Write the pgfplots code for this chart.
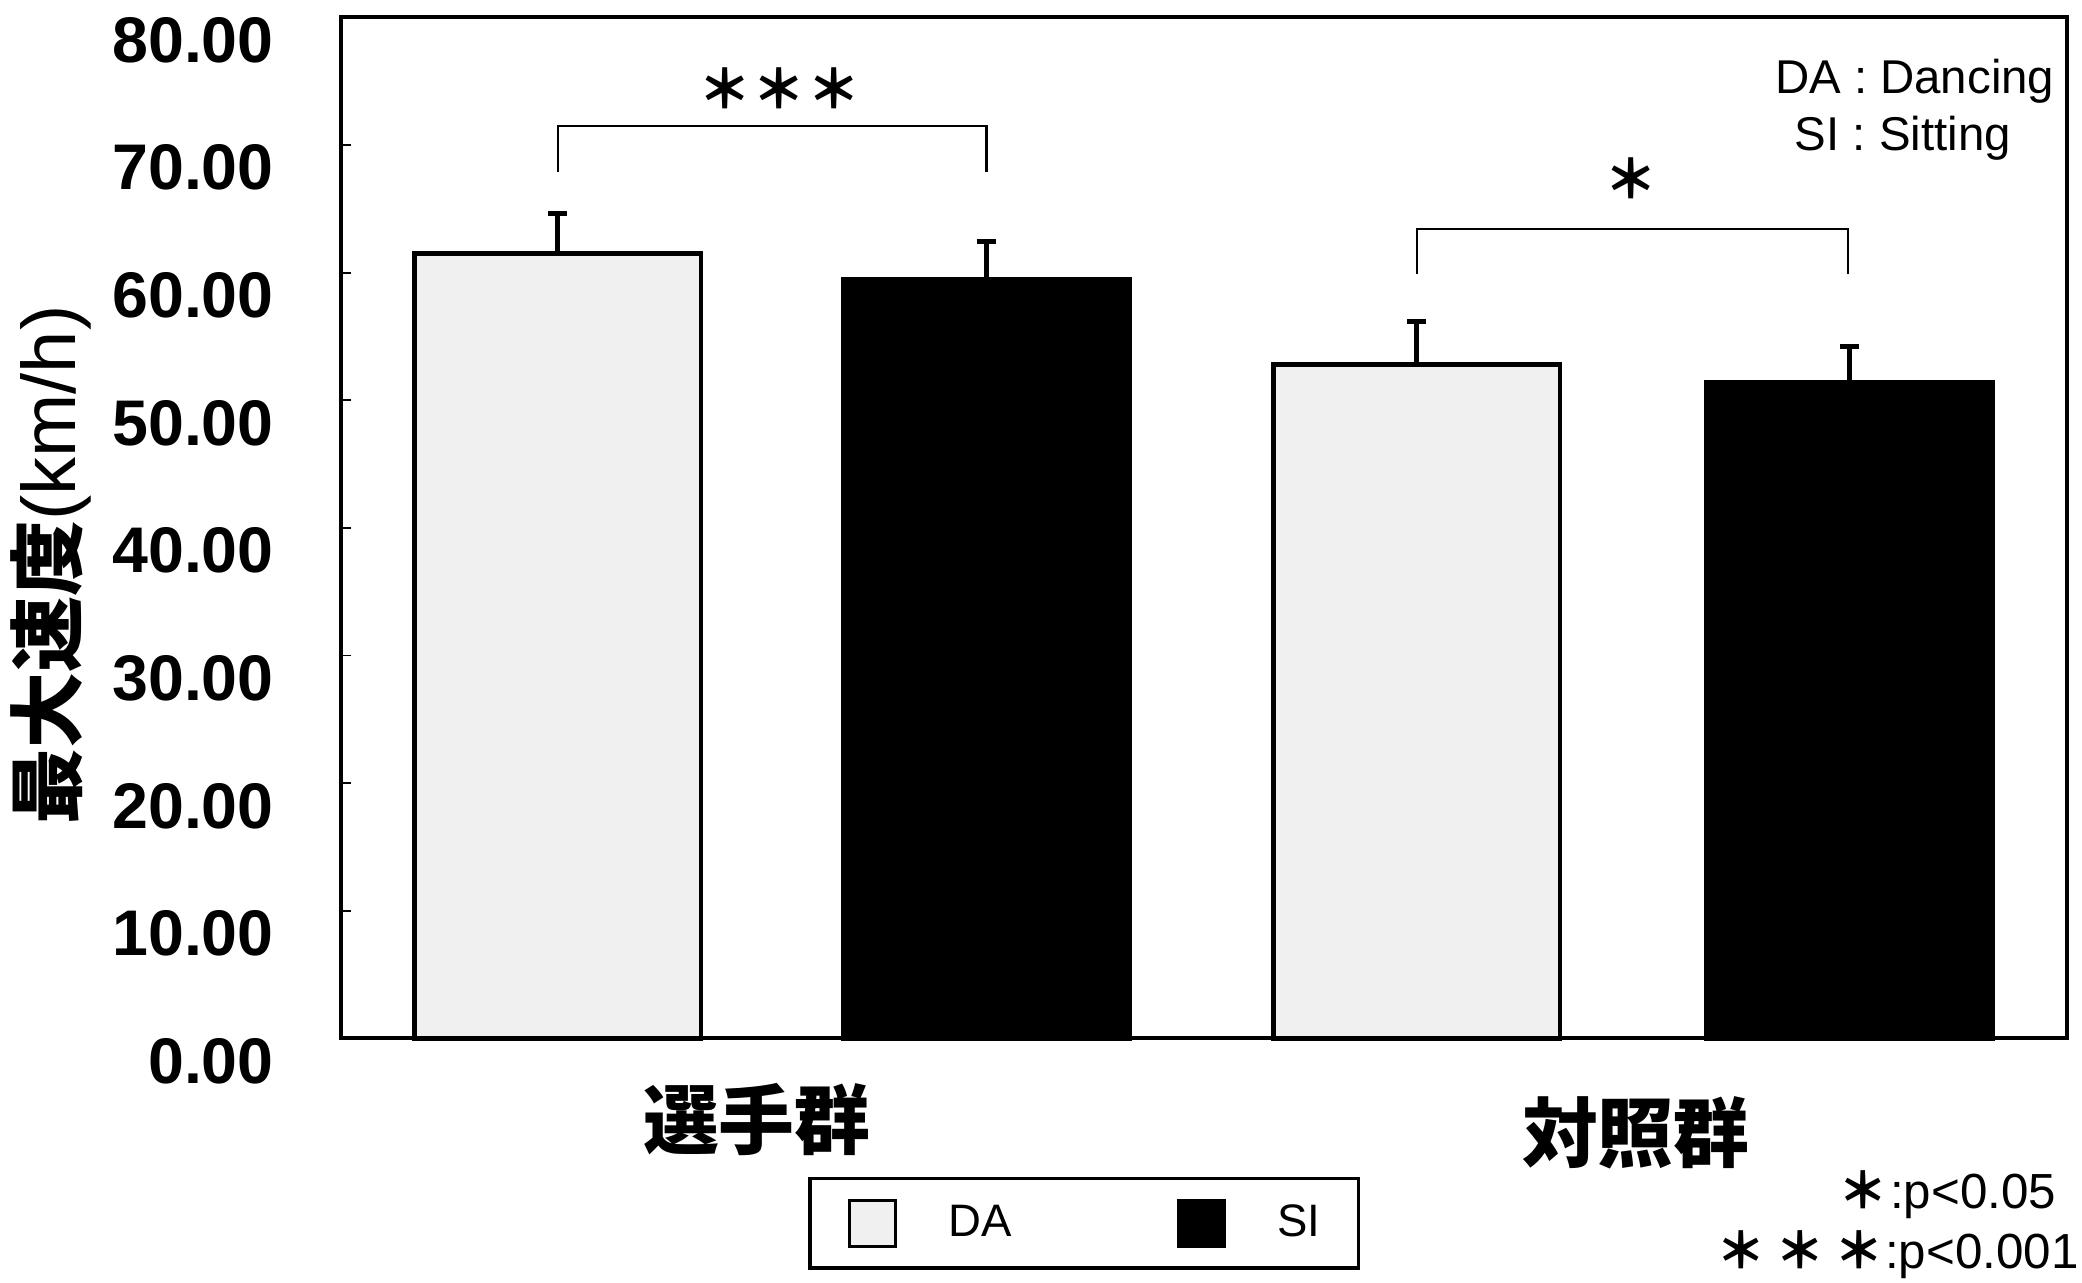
\documentclass[border=0pt]{standalone}
\usepackage{fontspec}
\setmainfont{Liberation Sans}
\newfontfamily\cjk{Noto Sans CJK JP}
\usepackage{pgfplots}
\usepackage{pgfplotstable}
\pgfplotsset{compat=1.18}

% x positions are bar centres along the frame (0--1300)
\pgfplotstableread{
x    y     err
163  61.5  3.1
810  52.8  3.4
}\dancing
\pgfplotstableread{
x    y     err
486  59.5  2.9
1136 51.4  2.8
}\sitting

\begin{document}
\begin{tikzpicture}
% page frame around the axis (axis origin sits at (0,0))
\path[use as bounding box] (-89.95pt,-64.4pt) rectangle (458.85pt,273.7pt);
\begin{axis}[
  at={(0pt,0pt)}, anchor=origin,
  scale only axis,
  width=455pt, height=269.15pt,
  xmin=0, xmax=1300, ymin=0, ymax=80,
  clip=false,
  ybar, bar width=75.6pt, bar shift=0pt,
  axis line style={line width=1.1pt},
  xtick=\empty,
  ytick={0,10,...,80},
  ytick pos=left,
  tick align=inside,
  major tick length=2.6pt,
  every tick/.style={black, line width=0.5pt},
  /pgf/number format/fixed,
  /pgf/number format/fixed zerofill,
  /pgf/number format/precision=2,
  /pgf/number format/assume math mode=true,
  yticklabel style={font=\fontsize{17}{17}\selectfont\bfseries,
    anchor=east, inner sep=0pt, xshift=-17.6pt, yshift=-6pt},
  legend columns=2,
  legend style={at={(axis description cs:0.4304,-0.1811)}, anchor=center,
    draw=black, line width=0.9pt, inner xsep=10pt, inner ysep=5.3pt,
    font=\fontsize{12}{12}\selectfont,
    nodes={inner sep=0pt},
    /tikz/every odd column/.append style={column sep=13.5pt},
    /tikz/every even column/.append style={column sep=43.5pt}},
  legend image code/.code={\draw[#1, line width=0.8pt] (0pt,-6.1pt) rectangle (12.25pt,6.1pt);},
]
\addplot[fill=gray!12, draw=black, line width=1.2pt,
  error bars/.cd, y dir=plus, y explicit,
  error bar style={line width=1.3pt, black},
  error mark options={rotate=90, black, line width=1.3pt, mark size=2.45pt}]
  table[x=x, y=y, y error=err]{\dancing};
\addlegendentry{DA}

\addplot[fill=black, draw=black, line width=1.2pt,
  error bars/.cd, y dir=plus, y explicit,
  error bar style={line width=1.3pt, black},
  error mark options={rotate=90, black, line width=1.3pt, mark size=2.45pt}]
  table[x=x, y=y, y error=err]{\sitting};
\addlegendentry{SI}

% significance brackets
\draw[line width=0.6pt] (axis cs:163,67.9) |- (axis cs:486,71.5) -- (axis cs:486,67.9);
\draw[line width=0.6pt] (axis cs:810,59.9) |- (axis cs:1135,63.4) -- (axis cs:1135,59.9);
\node[font=\fontsize{14}{14}\selectfont\cjk\bfseries] at (axis cs:330,74.4) {＊\hspace{0.3pt}＊\hspace{0.3pt}＊};
\node[font=\fontsize{14}{14}\selectfont\cjk\bfseries] at (axis cs:971,67.4) {＊};

% abbreviations
\node[font=\fontsize{12.5}{12.5}\selectfont] at (axis cs:1185,75.0) {DA : Dancing};
\node[font=\fontsize{12.5}{12.5}\selectfont] at (axis cs:1176,70.55) {SI : Sitting};

% group names
\node[font=\fontsize{20}{20}\selectfont\cjk\bfseries] at (axis cs:313,-6.34) {選手群};
\node[font=\fontsize{20}{20}\selectfont\cjk\bfseries] at (axis cs:975,-7.38) {対照群};

% y label
\node[rotate=90, font=\fontsize{20}{20}\selectfont] at (axis cs:-219,37.1) {{\cjk\bfseries 最大速度}(km/h)};

% significance key
\node[anchor=east, inner sep=0pt, font=\fontsize{13}{13}\selectfont] at (axis cs:1292,-12.26)
  {{\cjk\bfseries ＊}\hspace{0.5pt}:p<0.05};
\node[anchor=east, inner sep=0pt, font=\fontsize{13}{13}\selectfont] at (axis cs:1309,-16.93)
  {{\cjk\bfseries ＊\hspace{2.5pt}＊\hspace{2.5pt}＊}\hspace{0.5pt}:p<0.001};
\end{axis}
\end{tikzpicture}
\end{document}
